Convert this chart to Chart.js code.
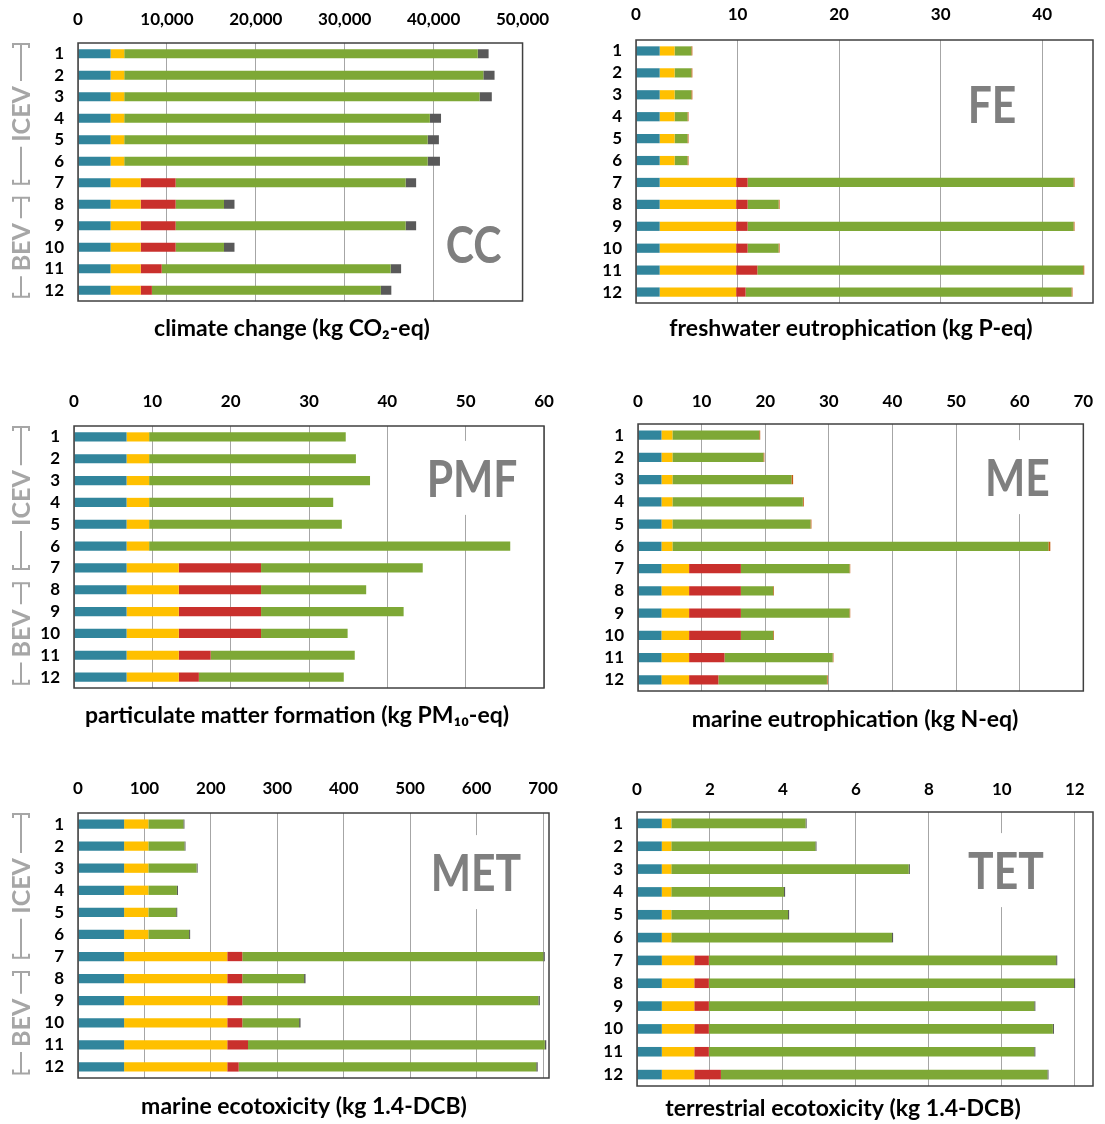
<!DOCTYPE html>
<html>
<head>
<meta charset="utf-8">
<script src="https://cdn.jsdelivr.net/npm/chart.js@4.4.1/dist/chart.umd.min.js"></script>
<style>
  html, body { margin: 0; padding: 0; background: #fff; }
  body { width: 1105px; height: 1124px; position: relative; overflow: hidden; }
  canvas { position: absolute; }
</style>
</head>
<body>
<canvas id="cc"></canvas>
<canvas id="fe"></canvas>
<canvas id="pmf"></canvas>
<canvas id="me"></canvas>
<canvas id="met"></canvas>
<canvas id="tet"></canvas>
<script>
// ---- vehicles and groups ----
const vehicles = ['1', '2', '3', '4', '5', '6', '7', '8', '9', '10', '11', '12'];
const groups = [
  { label: 'ICEV', from: 0, to: 5 },
  { label: 'BEV', from: 6, to: 11 }
];
const seriesNames = ['glider', 'drivetrain', 'battery', 'operation', 'maintenance', 'end of life'];
const seriesColors = ['#31859C', '#FFC000', '#C9302C', '#7EA836', '#C55A11', '#595959'];

// ---- climate change (kg CO2-eq) ----
const ccTicks = [0, 10000, 20000, 30000, 40000, 50000];
const ccGlider = [3660, 3660, 3660, 3660, 3660, 3660, 3660, 3660, 3660, 3660, 3660, 3660];
const ccDrive = [1540, 1540, 1540, 1540, 1540, 1540, 3390, 3390, 3390, 3390, 3390, 3390];
const ccBattery = [0, 0, 0, 0, 0, 0, 3930, 3930, 3930, 3930, 2360, 1260];
const ccOperation = [39760, 40390, 39960, 34370, 34130, 34130, 25870, 5440, 25870, 5440, 25750, 25750];
const ccMaint = [0, 0, 0, 0, 0, 0, 0, 0, 0, 0, 0, 0];
const ccEol = [1220, 1260, 1380, 1260, 1260, 1380, 1180, 1180, 1180, 1180, 1180, 1180];

// ---- freshwater eutrophication (kg P-eq) ----
const feTicks = [0, 10, 20, 30, 40];
const feGlider = [2.33, 2.33, 2.33, 2.33, 2.33, 2.33, 2.33, 2.33, 2.33, 2.33, 2.33, 2.33];
const feDrive = [1.47, 1.47, 1.47, 1.47, 1.47, 1.47, 7.53, 7.53, 7.53, 7.53, 7.53, 7.53];
const feBattery = [0, 0, 0, 0, 0, 0, 1.13, 1.13, 1.13, 1.13, 2.09, 0.93];
const feOperation = [1.65, 1.65, 1.65, 1.27, 1.27, 1.27, 32.09, 3.05, 32.09, 3.05, 32.09, 32.09];
const feMaint = [0.1, 0.1, 0.1, 0.1, 0.1, 0.1, 0.1, 0.1, 0.1, 0.1, 0.1, 0.1];
const feEol = [0, 0, 0, 0, 0, 0, 0, 0, 0, 0, 0, 0];

// ---- particulate matter formation (kg PM10-eq) ----
const pmfTicks = [0, 10, 20, 30, 40, 50, 60];
const pmfGlider = [6.71, 6.71, 6.71, 6.71, 6.71, 6.71, 6.71, 6.71, 6.71, 6.71, 6.71, 6.71];
const pmfDrive = [2.88, 2.88, 2.88, 2.88, 2.88, 2.88, 6.67, 6.67, 6.67, 6.67, 6.67, 6.67];
const pmfBattery = [0, 0, 0, 0, 0, 0, 10.5, 10.5, 10.5, 10.5, 4.06, 2.56];
const pmfOperation = [25.1, 26.4, 28.2, 23.5, 24.6, 46.1, 20.64, 13.42, 18.2, 11.05, 18.4, 18.5];
const pmfMaint = [0, 0, 0, 0, 0, 0, 0, 0, 0, 0, 0, 0];
const pmfEol = [0, 0, 0, 0, 0, 0, 0, 0, 0, 0, 0, 0];

// ---- marine eutrophication (kg N-eq) ----
const meTicks = [0, 10, 20, 30, 40, 50, 60, 70];
const meGlider = [3.69, 3.69, 3.69, 3.69, 3.69, 3.69, 3.69, 3.69, 3.69, 3.69, 3.69, 3.69];
const meDrive = [1.72, 1.72, 1.72, 1.72, 1.72, 1.72, 4.34, 4.34, 4.34, 4.34, 4.34, 4.34];
const meBattery = [0, 0, 0, 0, 0, 0, 8.14, 8.14, 8.14, 8.14, 5.57, 4.6];
const meOperation = [13.65, 14.3, 18.7, 20.5, 21.7, 59.1, 17.07, 5.08, 17.07, 5.08, 17.0, 17.07];
const meMaint = [0.15, 0.15, 0.27, 0.15, 0.15, 0.3, 0.12, 0.12, 0.12, 0.12, 0.12, 0.12];
const meEol = [0, 0, 0, 0, 0, 0, 0, 0, 0, 0, 0, 0];

// ---- marine ecotoxicity (kg 1.4-DCB) ----
const metTicks = [0, 100, 200, 300, 400, 500, 600, 700];
const metGlider = [69.4, 69.4, 69.4, 69.4, 69.4, 69.4, 69.4, 69.4, 69.4, 69.4, 69.4, 69.4];
const metDrive = [36.5, 36.5, 36.5, 36.5, 36.5, 36.5, 155.3, 155.3, 155.3, 155.3, 155.3, 155.3];
const metBattery = [0, 0, 0, 0, 0, 0, 22.6, 22.6, 22.6, 22.6, 31.2, 17.2];
const metOperation = [52.7, 54.3, 72.6, 43.0, 41.9, 61.3, 453.2, 93.0, 445.7, 85.5, 446.8, 447.9];
const metMaint = [0, 0, 0, 0, 0, 0, 0, 0, 0, 0, 0, 0];
const metEol = [1.6, 1.6, 1.6, 1.6, 1.6, 1.6, 2.2, 2.2, 2.2, 2.2, 2.2, 2.2];

// ---- terrestrial ecotoxicity (kg 1.4-DCB) ----
const tetTicks = [0, 2, 4, 6, 8, 10, 12];
const tetGlider = [0.68, 0.68, 0.68, 0.68, 0.68, 0.68, 0.68, 0.68, 0.68, 0.68, 0.68, 0.68];
const tetDrive = [0.26, 0.26, 0.26, 0.26, 0.26, 0.26, 0.89, 0.89, 0.89, 0.89, 0.89, 0.89];
const tetBattery = [0, 0, 0, 0, 0, 0, 0.40, 0.40, 0.40, 0.40, 0.40, 0.73];
const tetOperation = [3.68, 3.95, 6.51, 3.09, 3.2, 6.05, 9.52, 10.01, 8.92, 9.43, 8.92, 8.95];
const tetMaint = [0, 0, 0, 0, 0, 0, 0, 0, 0, 0, 0, 0];
const tetEol = [0.03, 0.03, 0.03, 0.03, 0.03, 0.03, 0.03, 0.03, 0.03, 0.03, 0.03, 0.03];

// ---- panel layout ----
const FONT = "Lato, 'Open Sans', 'DejaVu Sans', sans-serif";
const PAGE_W = 1105;
const TITLE_SIZE = 23;
const TICK_SIZE = 17;

const panels = [
  { id: 'cc', tag: 'CC', title: 'climate change (kg CO\u2082-eq)', ticks: ccTicks, max: 50000,
    series: [ccGlider, ccDrive, ccBattery, ccOperation, ccMaint, ccEol], brackets: true,
    left: 0, top: 0, box: { l: 78, t: 43, r: 530, b: 301 }, tickY: 20, titleAt: [292, 329], tagAt: [0.89, 0.78] },
  { id: 'fe', tag: 'FE', title: 'freshwater eutrophication (kg P-eq)', ticks: feTicks, max: 45,
    series: [feGlider, feDrive, feBattery, feOperation, feMaint, feEol], brackets: false,
    left: 560, top: 0, box: { l: 636, t: 40, r: 1093, b: 303 }, tickY: 15, titleAt: [851, 329], tagAt: [0.779, 0.243] },
  { id: 'pmf', tag: 'PMF', title: 'particulate matter formation (kg PM\u2081\u2080-eq)', ticks: pmfTicks, max: 60,
    series: [pmfGlider, pmfDrive, pmfBattery, pmfOperation, pmfMaint, pmfEol], brackets: true,
    left: 0, top: 380, box: { l: 74, t: 426, r: 544, b: 688 }, tickY: 402, titleAt: [297, 716], tagAt: [0.847, 0.198] },
  { id: 'me', tag: 'ME', title: 'marine eutrophication (kg N-eq)', ticks: meTicks, max: 70,
    series: [meGlider, meDrive, meBattery, meOperation, meMaint, meEol], brackets: false,
    left: 560, top: 380, box: { l: 638, t: 424, r: 1092, b: 691 }, tickY: 402, titleAt: [855, 720], tagAt: [0.852, 0.199] },
  { id: 'met', tag: 'MET', title: 'marine ecotoxicity (kg 1.4-DCB)', ticks: metTicks, max: 709,
    series: [metGlider, metDrive, metBattery, metOperation, metMaint, metEol], brackets: true,
    left: 0, top: 765, box: { l: 78, t: 813, r: 549, b: 1078 }, tickY: 789, titleAt: [304, 1107], tagAt: [0.845, 0.223] },
  { id: 'tet', tag: 'TET', title: 'terrestrial ecotoxicity (kg 1.4-DCB)', ticks: tetTicks, max: 12.5,
    series: [tetGlider, tetDrive, tetBattery, tetOperation, tetMaint, tetEol], brackets: false,
    left: 560, top: 765, box: { l: 637, t: 812, r: 1093, b: 1086 }, tickY: 790, titleAt: [843, 1109], tagAt: [0.809, 0.212] }
];

// Frame around the plot area
const frame = {
  id: 'frame',
  afterDraw(chart) {
    const a = chart.chartArea, ctx = chart.ctx;
    ctx.save();
    ctx.strokeStyle = '#404040';
    ctx.lineWidth = 1.5;
    ctx.strokeRect(a.left, a.top, a.right - a.left, a.bottom - a.top);
    ctx.restore();
  }
};

// Axis caption under the plot
const caption = {
  id: 'caption',
  afterDraw(chart, args, opts) {
    const ctx = chart.ctx;
    ctx.save();
    ctx.font = `bold ${TITLE_SIZE}px ${FONT}`;
    ctx.fillStyle = '#000';
    ctx.textAlign = 'center';
    ctx.textBaseline = 'middle';
    ctx.fillText(opts.text, opts.x, opts.y);
    ctx.restore();
  }
};

// Large category tag on a white patch inside the plot
const tagLabel = {
  id: 'tagLabel',
  afterDatasetsDraw(chart, args, opts) {
    const a = chart.chartArea, ctx = chart.ctx;
    const cx = a.left + opts.at[0] * (a.right - a.left);
    const cy = a.top + opts.at[1] * (a.bottom - a.top);
    const sx = 0.82;
    ctx.save();
    ctx.font = `bold 52px ${FONT}`;
    const w = ctx.measureText(opts.text).width * sx;
    ctx.fillStyle = '#fff';
    ctx.fillRect(cx - w / 2 - 7, cy - 37, w + 14, 74);
    ctx.translate(cx, cy);
    ctx.scale(sx, 1);
    ctx.fillStyle = '#7F7F7F';
    ctx.textAlign = 'center';
    ctx.textBaseline = 'middle';
    ctx.fillText(opts.text, 0, 2);
    ctx.restore();
  }
};

// Group brackets (ICEV / BEV) to the left of the vehicle numbers
const groupBrackets = {
  id: 'groupBrackets',
  afterDraw(chart, args, opts) {
    if (!opts.show) return;
    const y = chart.scales.y, ctx = chart.ctx;
    const step = y.getPixelForValue(1) - y.getPixelForValue(0);
    const x = 21, cap = 8, leg = 4;
    ctx.save();
    ctx.strokeStyle = '#A6A6A6';
    ctx.fillStyle = '#A6A6A6';
    ctx.lineWidth = 2;
    ctx.font = `bold 25px ${FONT}`;
    groups.forEach((g, i) => {
      const y0 = y.getPixelForValue(g.from) + (i === 0 ? -0.45 : 0.7) * step;
      const y1 = y.getPixelForValue(g.to) + (i === 0 ? 1.05 : 0.3) * step;
      const mid = (y0 + y1) / 2;
      const half = ctx.measureText(g.label).width / 2 + 5;
      ctx.beginPath();
      ctx.moveTo(x - cap, y0 + leg); ctx.lineTo(x - cap, y0); ctx.lineTo(x + cap, y0); ctx.lineTo(x + cap, y0 + leg);
      ctx.moveTo(x, y0); ctx.lineTo(x, mid - half);
      ctx.moveTo(x, mid + half); ctx.lineTo(x, y1);
      ctx.moveTo(x - cap, y1 - leg); ctx.lineTo(x - cap, y1); ctx.lineTo(x + cap, y1); ctx.lineTo(x + cap, y1 - leg);
      ctx.stroke();
      ctx.save();
      ctx.translate(x, mid);
      ctx.rotate(-Math.PI / 2);
      ctx.textAlign = 'center';
      ctx.textBaseline = 'middle';
      ctx.fillText(g.label, 0, 1);
      ctx.restore();
    });
    ctx.restore();
  }
};

panels.forEach(p => {
  const canvas = document.getElementById(p.id);
  const padRight = Math.min(32, PAGE_W - p.box.r);
  const width = p.box.r - p.left + padRight;
  const height = p.titleAt[1] - p.top + 16;
  const padBottom = height - (p.box.b - p.top);
  canvas.width = width;
  canvas.height = height;
  canvas.style.left = p.left + 'px';
  canvas.style.top = p.top + 'px';
  canvas.style.width = width + 'px';
  canvas.style.height = height + 'px';
  const tickPad = p.box.t - p.tickY - TICK_SIZE * 1.2 / 2;

  new Chart(canvas, {
    type: 'bar',
    data: {
      labels: vehicles,
      datasets: p.series.map((values, i) => ({
        label: seriesNames[i],
        data: values,
        backgroundColor: seriesColors[i],
        borderWidth: 0,
        barPercentage: 0.42,
        categoryPercentage: 1
      }))
    },
    options: {
      indexAxis: 'y',
      responsive: false,
      animation: false,
      layout: { padding: { left: 0, right: padRight, top: 0, bottom: padBottom } },
      scales: {
        x: {
          position: 'top',
          stacked: true,
          min: 0,
          max: p.max,
          afterBuildTicks: s => { s.ticks = p.ticks.map(v => ({ value: v })); },
          afterFit: s => { s.height = p.box.t - p.top; },
          grid: { color: '#A6A6A6', lineWidth: 1, drawTicks: false },
          border: { display: false },
          ticks: {
            autoSkip: false,
            maxRotation: 0,
            padding: tickPad,
            color: '#000',
            font: { family: FONT, size: TICK_SIZE, weight: 'bold' },
            callback: v => Number(v).toLocaleString('en-US')
          }
        },
        y: {
          stacked: true,
          afterFit: s => { s.width = p.box.l - p.left; },
          grid: { display: false, drawTicks: false },
          border: { display: false },
          ticks: {
            autoSkip: false,
            padding: 14,
            color: '#000',
            font: { family: FONT, size: TICK_SIZE, weight: 'bold' }
          }
        }
      },
      plugins: {
        legend: { display: false },
        tooltip: { enabled: false },
        title: { display: false },
        caption: { text: p.title, x: p.titleAt[0] - p.left, y: p.titleAt[1] - p.top },
        tagLabel: { text: p.tag, at: p.tagAt },
        groupBrackets: { show: p.brackets }
      }
    },
    plugins: [frame, caption, tagLabel, groupBrackets]
  });
});
</script>
</body>
</html>
